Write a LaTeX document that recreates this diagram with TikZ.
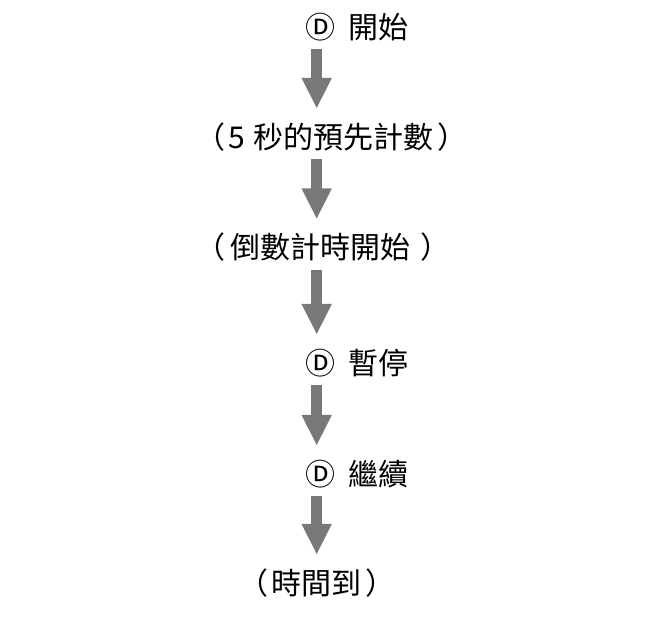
\documentclass[tikz,border=0pt]{standalone}
\usepackage{fontspec}
\newfontfamily\cjk{Noto Sans CJK TC}
\usetikzlibrary{arrows.meta}
\definecolor{arrowgray}{RGB}{120,120,120}
\tikzset{
  lbl/.style={inner sep=0pt, text height=35.4pt, text depth=12.6pt, anchor=base west, font=\cjk\fontsize{30pt}{34pt}\selectfont},
  bigarrow/.style={draw=arrowgray, line width=11pt, -{Triangle[width=28pt,length=31pt,fill=arrowgray]}, shorten <=-2pt, shorten >=4pt}
}
\newcommand{\circD}{\makebox[43.5pt][l]{\fontsize{30pt}{32pt}\selectfont Ⓓ}}
\begin{document}
\begin{tikzpicture}[x=1pt,y=-1pt]
\useasboundingbox[fill=white] (0,0) rectangle (667,619);
\coordinate (axis) at (316.7,0);
\node[lbl] (n1) at (305,38.4) {\circD 開始};
\node[lbl] (n2) at (195.5,148.4) {（\hspace{3pt}5\hspace{8.5pt}秒的預先計數\hspace{3.5pt}）};
\node[lbl] (n3) at (195.5,258.9) {（\hspace{5pt}倒數計時開始\hspace{9.5pt}）};
\node[lbl] (n4) at (305,374.4) {\circD 暫停};
\node[lbl] (n5) at (305,485.4) {\circD 繼續};
\node[lbl] (n6) at (238.5,594.4) {（\hspace{3pt}時間到\hspace{3.5pt}）};
\draw[bigarrow] (n1.south -| axis) -- (n2.north -| axis);
\draw[bigarrow] (n2.south -| axis) -- (n3.north -| axis);
\draw[bigarrow] (n3.south -| axis) -- (n4.north -| axis);
\draw[bigarrow] (n4.south -| axis) -- (n5.north -| axis);
\draw[bigarrow] (n5.south -| axis) -- (n6.north -| axis);
\end{tikzpicture}
\end{document}
